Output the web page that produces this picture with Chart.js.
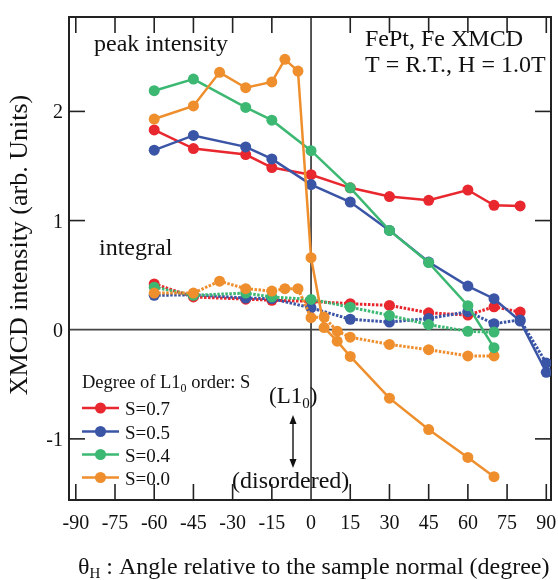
<!DOCTYPE html>
<html><head><meta charset="utf-8">
<script src="https://cdn.jsdelivr.net/npm/chart.js@4.4.1/dist/chart.umd.min.js"></script>
<style>html,body{margin:0;padding:0;background:#fff;overflow:hidden}#wrap{width:558px;height:580px;position:relative}</style>
</head><body><div id="wrap"><canvas id="c" width="558" height="580"></canvas></div>
<script>
// ---- data ----
const xTicks = [-90,-75,-60,-45,-30,-15,0,15,30,45,60,75,90];
const yTicks = [-1,0,1,2];

const seriesLabels = ['S=0.7','S=0.5','S=0.4','S=0.0'];
const seriesColors = ['#e8272e','#3a55a6','#3cb872','#ee8e2c'];

// peak intensity (solid)
const peakAngles07 = [-60,-45,-25,-15,0,15,30,45,60,70,80];
const peakS07      = [1.83,1.66,1.605,1.486,1.42,1.30,1.22,1.186,1.28,1.14,1.134];
const peakAngles05 = [-60,-45,-25,-15,0,15,30,45,60,70,80,90];
const peakS05      = [1.645,1.78,1.675,1.565,1.33,1.17,0.91,0.62,0.40,0.284,0.079,-0.39];
const peakAngles04 = [-60,-45,-25,-15,0,15,30,45,60,70];
const peakS04      = [2.19,2.296,2.037,1.92,1.64,1.30,0.91,0.615,0.22,-0.165];
const peakAngles00 = [-60,-45,-35,-25,-15,-10,-5,0,5,10,15,30,45,60,70];
const peakS00      = [1.93,2.05,2.358,2.217,2.27,2.477,2.37,0.66,0.02,-0.105,-0.245,-0.627,-0.915,-1.17,-1.346];

// integral (dotted)
const intAngles07 = [-60,-45,-25,-15,0,15,30,45,60,70,80];
const intS07      = [0.42,0.30,0.28,0.27,0.26,0.238,0.223,0.155,0.134,0.21,0.162];
const intAngles05 = [-60,-45,-25,-15,0,15,30,45,60,70,80,90];
const intS05      = [0.315,0.32,0.29,0.285,0.2,0.096,0.07,0.103,0.165,0.055,0.09,-0.306];
const intAngles04 = [-60,-45,-25,-15,0,15,30,45,60,70];
const intS04      = [0.39,0.315,0.336,0.30,0.278,0.207,0.131,0.047,-0.015,-0.022];
const intAngles00 = [-60,-45,-35,-25,-15,-10,-5,0,5,10,15,30,45,60,70];
const intS00      = [0.336,0.336,0.445,0.376,0.354,0.376,0.376,0.11,0.116,-0.013,-0.068,-0.135,-0.183,-0.24,-0.24];

// ---- build ----
const pts = (xs, ys) => xs.map((a, i) => ({x: a, y: ys[i]}));
const SERIF = '"Liberation Serif", "Times New Roman", serif';

function ds(xs, ys, ci, dotted, order) {
  return {
    label: seriesLabels[ci] + (dotted ? ' integral' : ' peak'),
    data: pts(xs, ys),
    borderColor: seriesColors[ci],
    backgroundColor: seriesColors[ci],
    pointBackgroundColor: seriesColors[ci],
    pointBorderWidth: 0,
    pointRadius: 5.5,
    borderWidth: dotted ? 3 : 2.5,
    borderDash: dotted ? [2.5, 1.5] : [],
    tension: 0,
    order: order
  };
}

const datasets = [
  ds(peakAngles00, peakS00, 3, false, 1),
  ds(peakAngles04, peakS04, 2, false, 2),
  ds(peakAngles05, peakS05, 1, false, 3),
  ds(peakAngles07, peakS07, 0, false, 4),
  ds(intAngles00, intS00, 3, true, 5),
  ds(intAngles04, intS04, 2, true, 6),
  ds(intAngles05, intS05, 1, true, 7),
  ds(intAngles07, intS07, 0, true, 8)
];

const decor = {
  id: 'decor',
  beforeDatasetsDraw(chart) {
    const ctx = chart.ctx, a = chart.chartArea, xs = chart.scales.x, ys = chart.scales.y;
    ctx.save();
    // zero lines
    ctx.strokeStyle = '#444'; ctx.lineWidth = 1.8;
    const x0 = xs.getPixelForValue(0), y0 = ys.getPixelForValue(0);
    ctx.beginPath(); ctx.moveTo(x0, a.top); ctx.lineTo(x0, a.bottom); ctx.stroke();
    ctx.beginPath(); ctx.moveTo(a.left, y0); ctx.lineTo(a.right, y0); ctx.stroke();
    // frame
    ctx.strokeStyle = '#222'; ctx.lineWidth = 2;
    ctx.strokeRect(a.left, a.top, a.right - a.left, a.bottom - a.top);
    // ticks
    ctx.lineWidth = 1.6;
    const tl = 16;
    xTicks.forEach(v => {
      if (v === 0) return;
      const px = xs.getPixelForValue(v);
      ctx.beginPath(); ctx.moveTo(px, a.top); ctx.lineTo(px, a.top + tl); ctx.stroke();
      ctx.beginPath(); ctx.moveTo(px, a.bottom); ctx.lineTo(px, a.bottom - tl); ctx.stroke();
    });
    yTicks.forEach(v => {
      if (v === 0) return;
      const py = ys.getPixelForValue(v);
      ctx.beginPath(); ctx.moveTo(a.left, py); ctx.lineTo(a.left + tl, py); ctx.stroke();
      ctx.beginPath(); ctx.moveTo(a.right, py); ctx.lineTo(a.right - tl, py); ctx.stroke();
    });
    ctx.restore();
  },
  afterDatasetsDraw(chart) {
    const ctx = chart.ctx, a = chart.chartArea, xs = chart.scales.x, ys = chart.scales.y;
    ctx.save();
    ctx.fillStyle = '#111';
    // tick labels
    ctx.font = '20px ' + SERIF;
    ctx.textAlign = 'center'; ctx.textBaseline = 'alphabetic';
    xTicks.forEach(v => ctx.fillText(String(v), xs.getPixelForValue(v), 529));
    ctx.textAlign = 'right';
    yTicks.forEach(v => ctx.fillText(String(v), 63, ys.getPixelForValue(v) + 7));
    // y title
    ctx.save();
    ctx.translate(27, 245); ctx.rotate(-Math.PI / 2);
    ctx.textAlign = 'center'; ctx.font = '26px ' + SERIF;
    ctx.fillText('XMCD intensity (arb. Units)', 0, 0);
    ctx.restore();
    // x title with subscript
    ctx.textAlign = 'left';
    let x = 78;
    const by = 574;
    ctx.font = '24px ' + SERIF; ctx.fillText('\u03B8', x, by); x += ctx.measureText('\u03B8').width;
    ctx.font = '15px ' + SERIF; ctx.fillText('H', x, by + 4); x += ctx.measureText('H').width;
    ctx.font = '24px ' + SERIF; ctx.fillText(' : Angle relative to the sample normal (degree)', x, by);
    // annotations
    ctx.font = '24px ' + SERIF;
    ctx.fillText('peak intensity', 94, 51);
    ctx.fillText('integral', 99, 255);
    ctx.fillText('FePt, Fe XMCD', 365, 46);
    ctx.fillText('T = R.T., H = 1.0T', 365, 72);
    // (L1_0)
    ctx.font = '23px ' + SERIF;
    x = 269;
    ctx.fillText('(L1', x, 403); x += ctx.measureText('(L1').width;
    ctx.font = '15px ' + SERIF; ctx.fillText('0', x, 408); x += ctx.measureText('0').width;
    ctx.font = '23px ' + SERIF; ctx.fillText(')', x, 403);
    ctx.font = '24px ' + SERIF;
    ctx.fillText('(disordered)', 232, 488);
    // double arrow
    ctx.strokeStyle = '#111'; ctx.lineWidth = 1.4;
    const ax = 293, at = 415, ab = 468;
    ctx.beginPath(); ctx.moveTo(ax, at + 6); ctx.lineTo(ax, ab - 6); ctx.stroke();
    ctx.beginPath(); ctx.moveTo(ax, at); ctx.lineTo(ax - 3.5, at + 9); ctx.lineTo(ax + 3.5, at + 9); ctx.closePath(); ctx.fill();
    ctx.beginPath(); ctx.moveTo(ax, ab); ctx.lineTo(ax - 3.5, ab - 9); ctx.lineTo(ax + 3.5, ab - 9); ctx.closePath(); ctx.fill();
    // legend
    ctx.font = '18.5px ' + SERIF;
    x = 82;
    ctx.fillText('Degree of L1', x, 388); x += ctx.measureText('Degree of L1').width;
    ctx.font = '12px ' + SERIF; ctx.fillText('0', x, 392); x += ctx.measureText('0').width;
    ctx.font = '18.5px ' + SERIF; ctx.fillText(' order: S', x, 388);
    const ly = [408, 431.5, 454.5, 477.5];
    seriesLabels.forEach((lab, i) => {
      ctx.strokeStyle = seriesColors[i]; ctx.fillStyle = seriesColors[i]; ctx.lineWidth = 2.5;
      ctx.beginPath(); ctx.moveTo(82, ly[i]); ctx.lineTo(119, ly[i]); ctx.stroke();
      ctx.beginPath(); ctx.arc(100.5, ly[i], 5.5, 0, Math.PI * 2); ctx.fill();
      ctx.fillStyle = '#111'; ctx.font = '19px ' + SERIF;
      ctx.fillText(lab, 125, ly[i] + 7);
    });
    ctx.restore();
  }
};

new Chart(document.getElementById('c'), {
  type: 'line',
  data: { datasets },
  options: {
    responsive: false,
    devicePixelRatio: 1,
    animation: false,
    events: [],
    layout: { padding: { left: 69, right: 7, top: 17, bottom: 80 } },
    plugins: { legend: { display: false }, tooltip: { enabled: false } },
    scales: {
      x: { type: 'linear', display: false, min: -92.6, max: 91.8 },
      y: { type: 'linear', display: false, min: -1.56, max: 2.865 }
    }
  },
  plugins: [decor]
});
</script></body></html>
